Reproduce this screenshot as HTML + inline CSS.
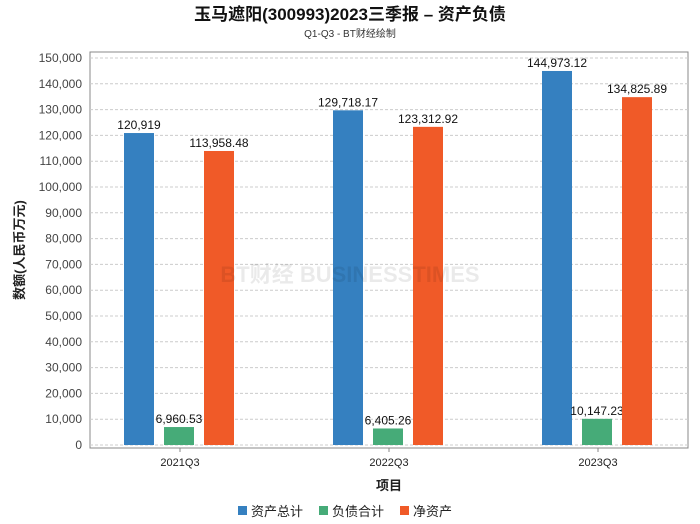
<!DOCTYPE html>
<html><head><meta charset="utf-8"><style>
body{margin:0;background:#fff;}
svg{display:block;font-family:"Liberation Sans","Noto Sans CJK SC",sans-serif;}
</style></head><body>
<svg id="c" width="700" height="524" viewBox="0 0 700 524">
<text x="350" y="20" text-anchor="middle" font-size="17" font-weight="bold" fill="#111">玉马遮阳(300993)2023三季报 – 资产负债</text>
<text x="350" y="37" text-anchor="middle" font-size="10" fill="#333">Q1-Q3 - BT财经绘制</text>
<rect x="90" y="52" width="598" height="396" fill="none" stroke="#888"/>
<g id="grid"></g><g id="bars"></g>
<text x="350" y="282" text-anchor="middle" font-size="22" fill="#000" opacity="0.08" font-weight="bold">BT财经 BUSINESSTIMES</text>
<text transform="translate(24,250) rotate(-90)" text-anchor="middle" font-size="13" font-weight="bold" fill="#222">数额(人民币万元)</text>
<text x="389" y="490" text-anchor="middle" font-size="13" font-weight="bold" fill="#222">项目</text>
<g id="legend"></g>
</svg>
<script>
const categories=["2021Q3","2022Q3","2023Q3"];
const seriesNames=["资产总计","负债合计","净资产"];
const totalAssets=[120919,129718.17,144973.12];
const totalLiabilities=[6960.53,6405.26,10147.23];
const netAssets=[113958.48,123312.92,134825.89];
const valueLabels=[["120,919","129,718.17","144,973.12"],["6,960.53","6,405.26","10,147.23"],["113,958.48","123,312.92","134,825.89"]];
const yTicks=[0,10000,20000,30000,40000,50000,60000,70000,80000,90000,100000,110000,120000,130000,140000,150000];
const colors=["#3580c0","#46ab78","#f05a28"];
const NS="http://www.w3.org/2000/svg";
const y=v=>445-v*387/150000;
const xc=i=>180+i*209;
function mk(t,a,p){const e=document.createElementNS(NS,t);for(const k in a)e.setAttribute(k,a[k]);p.appendChild(e);return e;}
const grid=document.getElementById('grid');
yTicks.forEach(v=>{
  const l=mk('line',{x1:90,x2:688,y1:y(v),y2:y(v),stroke:'#ccc','stroke-dasharray':'3,2'},grid);
  
  
  const t=mk('text',{x:82,y:y(v)+4,'text-anchor':'end','font-size':12,fill:'#444'},grid);
  t.textContent=v.toLocaleString('en-US');
  
  
});
const bars=document.getElementById('bars');
const series=[totalAssets,totalLiabilities,netAssets];
categories.forEach((c,i)=>{
  series.forEach((s,j)=>{
    const x=xc(i)-56+j*40;
    const r=mk('rect',{x:x,y:y(s[i]),width:30,height:445-y(s[i]),fill:colors[j]},bars);
    
    
    const t=mk('text',{x:x+15,y:y(s[i])-4,'text-anchor':'middle','font-size':12,fill:'#111'},bars);
    t.textContent=valueLabels[j][i];
    
    
  });
  const t=mk('text',{x:xc(i),y:466,'text-anchor':'middle','font-size':11,fill:'#222'},bars);
  t.textContent=c;
  
  
  const tk=mk('line',{x1:xc(i),x2:xc(i),y1:448,y2:452,stroke:'#888'},bars);
  
  
});
const lg=document.getElementById('legend');
const lx=[238,319,400];
seriesNames.forEach((n,j)=>{
  const g=mk('g',{},lg);
  
  
  mk('rect',{x:lx[j],y:506,width:9,height:9,fill:colors[j]},g);
  const t=mk('text',{x:lx[j]+13,y:516,'font-size':13,fill:'#222'},g);
  t.textContent=n;
});
</script>
</body></html>
